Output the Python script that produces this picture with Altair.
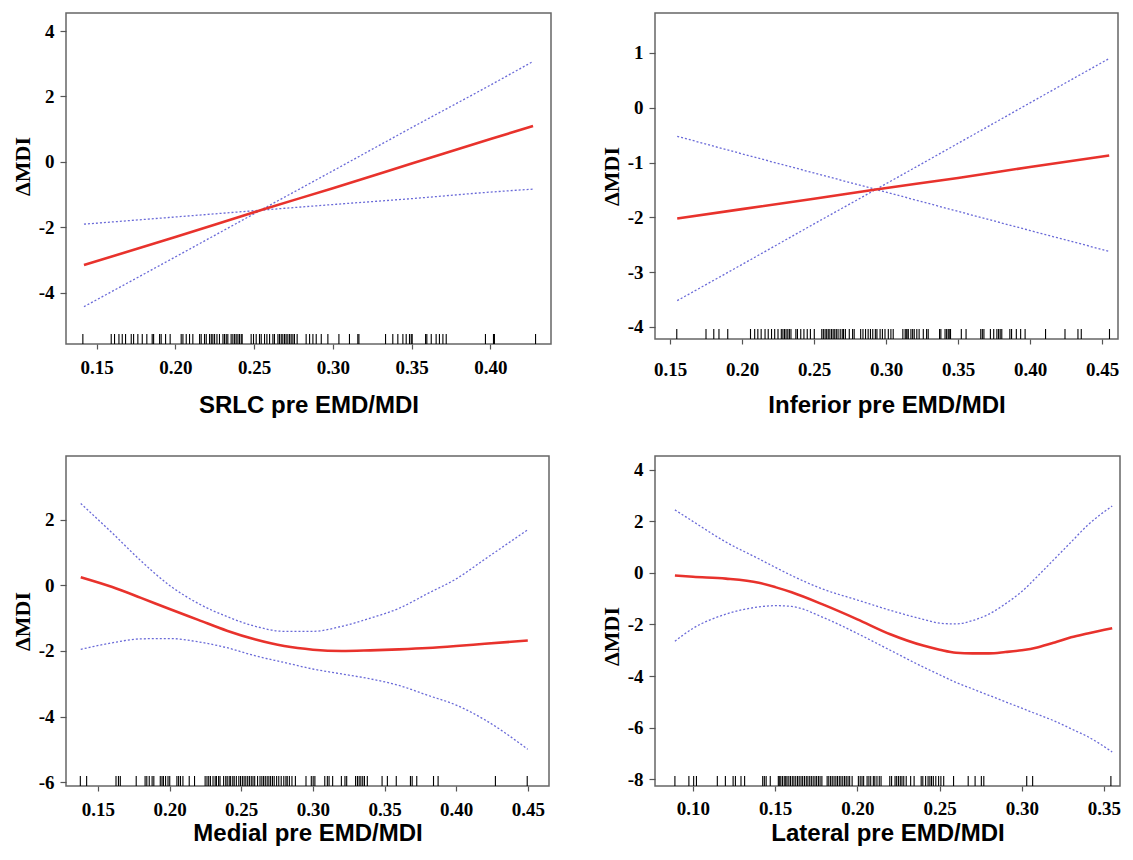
import altair as alt
import pandas as pd

RED = "#e8322c"
BLUE = "#6a6ad8"

# ---------------- Panel 1: SRLC ----------------
srlc_rug = [0.1413, 0.1593, 0.1614, 0.1642, 0.1663, 0.1684, 0.1720, 0.1735, 0.1762, 0.1790,
            0.1819, 0.1853, 0.1862, 0.1900, 0.1910, 0.1938, 0.1967, 0.2037, 0.2048, 0.2069,
            0.2090, 0.2111, 0.2154, 0.2164, 0.2185, 0.2196, 0.2217, 0.2228, 0.2238, 0.2249,
            0.2264, 0.2280, 0.2302, 0.2312, 0.2323, 0.2333, 0.2354, 0.2365, 0.2376, 0.2386,
            0.2397, 0.2407, 0.2418, 0.2424, 0.2481, 0.2496, 0.2513, 0.2534, 0.2545, 0.2566,
            0.2581, 0.2598, 0.2619, 0.2629, 0.2651, 0.2661, 0.2672, 0.2682, 0.2693, 0.2703,
            0.2714, 0.2725, 0.2735, 0.2746, 0.2756, 0.2773, 0.2830, 0.2852, 0.2873, 0.2894,
            0.2926, 0.2968, 0.3038, 0.3105, 0.3158, 0.3165, 0.3334, 0.3380, 0.3412, 0.3444,
            0.3465, 0.3486, 0.3497, 0.3503, 0.3588, 0.3596, 0.3624, 0.3655, 0.3676, 0.3698,
            0.3719, 0.3968, 0.4019, 0.4025, 0.4286]
srlc_x = [0.142, 0.20, 0.255, 0.30, 0.35, 0.40, 0.427]
srlc_fit = [-3.15, -2.29, -1.46, -0.80, -0.05, 0.70, 1.10]
srlc_a = [-1.90, -1.68, -1.47, -1.30, -1.12, -0.92, -0.83]
srlc_b = [-4.42, -2.90, -1.45, -0.27, 1.05, 2.35, 3.07]

# ---------------- Panel 2: Inferior ----------------
inf_rug = [0.1547, 0.1750, 0.1804, 0.1840, 0.1901, 0.2059, 0.2088, 0.2110, 0.2133, 0.2160,
           0.2182, 0.2205, 0.2227, 0.2250, 0.2273, 0.2284, 0.2295, 0.2306, 0.2318, 0.2329,
           0.2340, 0.2374, 0.2385, 0.2408, 0.2430, 0.2453, 0.2475, 0.2502, 0.2554, 0.2565,
           0.2577, 0.2588, 0.2599, 0.2610, 0.2622, 0.2633, 0.2644, 0.2655, 0.2667, 0.2682,
           0.2696, 0.2705, 0.2718, 0.2745, 0.2768, 0.2779, 0.2824, 0.2840, 0.2858, 0.2876,
           0.2892, 0.2908, 0.2926, 0.2937, 0.2959, 0.2975, 0.2993, 0.3016, 0.3034, 0.3050,
           0.3117, 0.3133, 0.3140, 0.3146, 0.3155, 0.3173, 0.3185, 0.3196, 0.3214, 0.3230,
           0.3259, 0.3282, 0.3293, 0.3372, 0.3381, 0.3410, 0.3421, 0.3432, 0.3439, 0.3448,
           0.3523, 0.3556, 0.3658, 0.3669, 0.3680, 0.3725, 0.3748, 0.3770, 0.3782, 0.3793,
           0.3804, 0.3860, 0.3872, 0.3905, 0.3935, 0.3966, 0.4108, 0.4243, 0.4333, 0.4356,
           0.4552]
inf_x = [0.155, 0.20, 0.25, 0.293, 0.35, 0.40, 0.455]
inf_fit = [-2.02, -1.85, -1.66, -1.49, -1.28, -1.08, -0.87]
inf_a = [-0.52, -0.84, -1.19, -1.49, -1.89, -2.24, -2.62]
inf_b = [-3.52, -2.86, -2.12, -1.49, -0.65, 0.09, 0.90]

# ---------------- Panel 3: Medial ----------------
med_rug = [0.1377, 0.1421, 0.1626, 0.1643, 0.1656, 0.1767, 0.1829, 0.1841, 0.1858, 0.1878,
           0.1890, 0.1935, 0.1947, 0.1957, 0.1972, 0.1989, 0.2001, 0.2051, 0.2063, 0.2076,
           0.2093, 0.2137, 0.2174, 0.2248, 0.2261, 0.2273, 0.2285, 0.2303, 0.2318, 0.2327,
           0.2342, 0.2352, 0.2377, 0.2392, 0.2402, 0.2416, 0.2426, 0.2441, 0.2451, 0.2466,
           0.2483, 0.2495, 0.2508, 0.2520, 0.2532, 0.2545, 0.2557, 0.2570, 0.2582, 0.2594,
           0.2614, 0.2631, 0.2644, 0.2656, 0.2668, 0.2681, 0.2693, 0.2705, 0.2718, 0.2730,
           0.2747, 0.2762, 0.2779, 0.2797, 0.2812, 0.2821, 0.2836, 0.2854, 0.2878, 0.2952,
           0.2989, 0.3002, 0.3014, 0.3083, 0.3101, 0.3113, 0.3138, 0.3199, 0.3224, 0.3236,
           0.3298, 0.3311, 0.3323, 0.3335, 0.3348, 0.3360, 0.3380, 0.3483, 0.3520, 0.3582,
           0.3681, 0.3693, 0.3725, 0.3842, 0.3874, 0.4274, 0.4496]
med_x = [0.138, 0.16, 0.18, 0.20, 0.22, 0.24, 0.26, 0.28, 0.30, 0.32, 0.34, 0.36, 0.38, 0.40, 0.42, 0.45]
med_fit = [0.25, -0.05, -0.38, -0.72, -1.05, -1.38, -1.65, -1.85, -1.96, -2.00, -1.98, -1.95, -1.91, -1.85, -1.78, -1.68]
med_hi = [2.50, 1.60, 0.75, 0.00, -0.55, -0.95, -1.25, -1.40, -1.40, -1.25, -1.00, -0.70, -0.25, 0.20, 0.80, 1.70]
med_lo = [-1.95, -1.75, -1.63, -1.62, -1.72, -1.90, -2.15, -2.35, -2.55, -2.70, -2.85, -3.05, -3.35, -3.65, -4.10, -5.00]

# ---------------- Panel 4: Lateral ----------------
lat_rug = [0.0890, 0.0975, 0.1004, 0.1021, 0.1148, 0.1197, 0.1244, 0.1258, 0.1292, 0.1314,
           0.1424, 0.1434, 0.1445, 0.1470, 0.1519, 0.1525, 0.1534, 0.1544, 0.1555, 0.1564,
           0.1572, 0.1583, 0.1593, 0.1604, 0.1614, 0.1625, 0.1636, 0.1646, 0.1657, 0.1667,
           0.1678, 0.1689, 0.1699, 0.1710, 0.1720, 0.1731, 0.1742, 0.1752, 0.1763, 0.1773,
           0.1784, 0.1816, 0.1826, 0.1837, 0.1847, 0.1858, 0.1869, 0.1879, 0.1890, 0.1900,
           0.1911, 0.1922, 0.1932, 0.1943, 0.1953, 0.1968, 0.2006, 0.2017, 0.2028, 0.2038,
           0.2059, 0.2070, 0.2081, 0.2097, 0.2106, 0.2119, 0.2133, 0.2144, 0.2197, 0.2208,
           0.2229, 0.2239, 0.2250, 0.2261, 0.2271, 0.2282, 0.2297, 0.2324, 0.2345, 0.2388,
           0.2398, 0.2415, 0.2430, 0.2441, 0.2451, 0.2462, 0.2477, 0.2494, 0.2508, 0.2525,
           0.2585, 0.2674, 0.2716, 0.2754, 0.2769, 0.3030, 0.3066, 0.3542]
lat_x = [0.089, 0.10, 0.12, 0.14, 0.15, 0.16, 0.18, 0.20, 0.22, 0.24, 0.25, 0.26, 0.27, 0.28,
         0.29, 0.30, 0.31, 0.32, 0.33, 0.34, 0.355]
lat_fit = [-0.10, -0.15, -0.22, -0.38, -0.55, -0.75, -1.25, -1.80, -2.38, -2.82, -2.98, -3.10,
           -3.12, -3.12, -3.07, -3.00, -2.88, -2.70, -2.50, -2.35, -2.15]
lat_hi = [2.45, 2.00, 1.20, 0.55, 0.22, -0.10, -0.65, -1.05, -1.45, -1.80, -1.95, -1.98, -1.85,
          -1.60, -1.20, -0.72, -0.10, 0.55, 1.20, 1.85, 2.60]
lat_lo = [-2.65, -2.15, -1.60, -1.32, -1.27, -1.30, -1.75, -2.35, -3.00, -3.65, -3.95, -4.25,
          -4.50, -4.75, -5.00, -5.25, -5.50, -5.75, -6.05, -6.35, -6.95]

Y_TITLE = "\u0394MDI"


def make_panel(rug, xs, fit, lo, hi, xdom, ydom, w, h, xticks, yticks, xtitle,
               title_pad=14, label_pad=7, ytitle_y=None):
    n = len(xs)
    curves = pd.DataFrame({
        "x": list(xs) * 3,
        "y": list(fit) + list(lo) + list(hi),
        "band": ["fit"] * n + ["lo"] * n + ["hi"] * n,
    })
    rug_df = pd.DataFrame({"x": rug})
    x_enc = alt.X(
        "x:Q",
        scale=alt.Scale(domain=xdom, nice=False, zero=False),
        axis=alt.Axis(values=xticks, format=".2f", title=xtitle,
                      titleFont="Liberation Sans", titleFontSize=24,
                      titleFontWeight="bold", titlePadding=title_pad,
                      labelPadding=label_pad, tickSize=5, labelFlush=False),
    )
    yaxis_kw = dict(values=yticks, labelExpr="toString(datum.value)", title=Y_TITLE,
                    titleFont="Liberation Serif", titleFontSize=22,
                    titleFontWeight="bold", titlePadding=4,
                    labelPadding=6, tickSize=6)
    if ytitle_y is not None:
        yaxis_kw["titleY"] = ytitle_y
    y_enc = alt.Y(
        "y:Q",
        scale=alt.Scale(domain=ydom, nice=False, zero=False),
        axis=alt.Axis(**yaxis_kw),
    )
    base = alt.Chart(curves)
    fit_line = base.transform_filter(alt.datum.band == "fit").mark_line(
        color=RED, strokeWidth=2.6, interpolate="monotone", clip=True).encode(x=x_enc, y=y_enc)
    lo_line = base.transform_filter(alt.datum.band == "lo").mark_line(
        color=BLUE, strokeWidth=1.3, strokeDash=[2, 2], interpolate="monotone", clip=True).encode(x=x_enc, y=y_enc)
    hi_line = base.transform_filter(alt.datum.band == "hi").mark_line(
        color=BLUE, strokeWidth=1.3, strokeDash=[2, 2], interpolate="monotone", clip=True).encode(x=x_enc, y=y_enc)
    rug_marks = alt.Chart(rug_df).mark_rule(color="black", strokeWidth=1.1).encode(
        x=x_enc, y=alt.value(h - 10), y2=alt.value(h))
    return alt.layer(lo_line, hi_line, fit_line, rug_marks).properties(width=w, height=h)


p1 = make_panel(srlc_rug, srlc_x, srlc_fit, srlc_a, srlc_b,
                [0.1306, 0.4384], [-5.56, 4.55], 485, 331,
                [0.15, 0.20, 0.25, 0.30, 0.35, 0.40], [-4, -2, 0, 2, 4], "SRLC pre EMD/MDI",
                title_pad=16, label_pad=9, ytitle_y=153)
p2 = make_panel(inf_rug, inf_x, inf_fit, inf_a, inf_b,
                [0.13958, 0.46111], [-4.22, 1.73], 463, 326,
                [0.15, 0.20, 0.25, 0.30, 0.35, 0.40, 0.45], [-4, -3, -2, -1, 0, 1],
                "Inferior pre EMD/MDI", title_pad=14, label_pad=16)
p3 = make_panel(med_rug, med_x, med_fit, med_lo, med_hi,
                [0.1277, 0.4648], [-6.12, 3.95], 483, 330,
                [0.15, 0.20, 0.25, 0.30, 0.35, 0.40, 0.45], [-6, -4, -2, 0, 2],
                "Medial pre EMD/MDI", title_pad=2, label_pad=9)
p4 = make_panel(lat_rug, lat_x, lat_fit, lat_lo, lat_hi,
                [0.07689, 0.35974], [-8.27, 4.54], 465, 330,
                [0.10, 0.15, 0.20, 0.25, 0.30, 0.35], [-8, -6, -4, -2, 0, 2, 4],
                "Lateral pre EMD/MDI", title_pad=3, label_pad=8, ytitle_y=180)

chart = alt.concat(
    p1, p2, p3, p4, columns=2,
    spacing={"row": 112, "column": 104},
    bounds="flush", align="none",
).properties(
    padding={"left": 2, "top": 4, "right": 0, "bottom": 0},
    background="white",
).configure_view(
    stroke="#666", strokeWidth=1.5
).configure_axis(
    domain=False, grid=False, tickColor="#555", tickWidth=1.2,
    labelFont="Liberation Serif", labelFontWeight="bold", labelFontSize=19,
    labelColor="black", titleColor="black",
)

chart.save("out.html", embed_options={"renderer": "svg", "actions": False})
